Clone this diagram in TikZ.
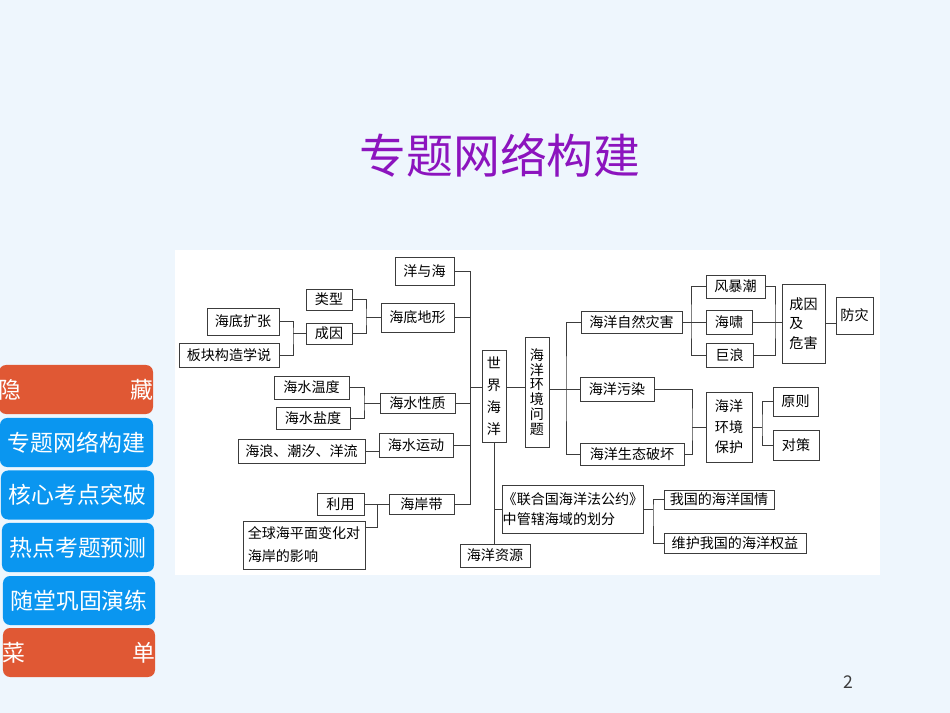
\documentclass[tikz,border=0pt]{standalone}
\usepackage{fontspec}
\setmainfont{Noto Sans CJK SC}
\definecolor{bgblue}{RGB}{238,246,253}
\definecolor{titlepurple}{RGB}{140,20,190}
\definecolor{btnred}{RGB}{224,88,52}
\definecolor{btnblue}{RGB}{10,150,240}
\definecolor{linegray}{RGB}{60,60,60}
\tikzset{
  sz/.style 2 args={minimum width={#1*0.03cm}, minimum height={#2*0.03cm}},
  menubtn/.style={rounded corners=6pt, text=white, inner sep=0pt, align=center,
                  font=\fontsize{19.5}{22}\selectfont, minimum height=1.47cm}
}
\begin{document}
\begin{tikzpicture}[x=0.03cm, y=-0.03cm]
\useasboundingbox (0,0) rectangle (950,713);
\fill[bgblue] (0,0) rectangle (950,713);
\fill[white] (175,250) rectangle (880,575);

\node[text=titlepurple, font=\fontsize{40}{44}\selectfont] (TITLE) at (500,155) {专题网络构建};
\node[text=linegray, font=\fontsize{15}{18}\selectfont] (PAGE) at (848,682) {2};

% menu
\begin{scope}[every node/.style={menubtn}]
    \node[fill=btnred, text width=4.62cm] (M1) at (76,389.5) {隐\hfill 藏};
    \node[fill=btnblue, minimum width=4.59cm] (M2) at (76.5,442.5) {专题网络构建};
    \node[fill=btnblue, minimum width=4.59cm] (M3) at (77.5,495) {核心考点突破};
    \node[fill=btnblue, minimum width=4.56cm] (M4) at (78,547.5) {热点考题预测};
    \node[fill=btnblue, minimum width=4.56cm] (M5) at (79,600.5) {随堂巩固演练};
    \node[fill=btnred, text width=4.56cm] (M6) at (79,652.5) {菜\hfill 单};
\end{scope}

\begin{scope}[every node/.style={draw=linegray, line width=0.8pt, inner sep=0pt,
                                 font=\fontsize{12}{15}\selectfont}]
    % left
    \node[sz={59}{28}] (YYH) at (424.5,271) {洋与海};
    \node[sz={46}{21}] (LX) at (329,299.5) {类型};
    \node[sz={73}{29}] (HDDX) at (417.5,317.5) {海底地形};
    \node[sz={46}{21}] (CY) at (329,333.5) {成因};
    \node[sz={72}{27}] (HDKZ) at (243,321.5) {海底扩张};
    \node[sz={100}{24}] (BKGZ) at (229,355) {板块构造学说};
    \node[sz={75}{23}] (WD) at (311.5,387.5) {海水温度};
    \node[sz={74}{22}] (YD) at (313,418) {海水盐度};
    \node[sz={75}{20}] (XZ) at (417.5,403) {海水性质};
    \node[sz={74}{24}] (YDG) at (416,445) {海水运动};
    \node[sz={127}{24}] (HL) at (301.5,451) {海浪、潮汐、洋流};
    \node[sz={65}{20}] (HAD) at (421.5,504) {海岸带};
    \node[sz={47}{22}] (LY) at (340.5,504) {利用};
    \node[sz={122}{48}, align=left, font=\fontsize{12}{19.5}\selectfont] (QQ) at (304,545)
        {全球海平面变化对\\海岸的影响};
    % middle
    \node[sz={24}{92}, align=center, font=\fontsize{12}{18.7}\selectfont] (SJHY) at (494,396)
        {世\\界\\海\\洋};
    \node[sz={70}{23}] (HYZY) at (495,555.5) {海洋资源};
    \node[sz={140}{48}, align=left, font=\fontsize{12}{17}\selectfont] (GY) at (573,509)
        {《联合国海洋法公约》\\中管辖海域的划分};
    \node[sz={110}{19}] (GQ) at (719,499.5) {我国的海洋国情};
    \node[sz={142}{20}] (QY) at (735,543.5) {维护我国的海洋权益};
    \node[sz={24}{110}, align=center, font=\fontsize{12}{12.7}\selectfont] (HJ) at (537,392)
        {海\\洋\\环\\境\\问\\题};
    % right
    \node[sz={101}{22}] (ZH) at (631.5,322) {海洋自然灾害};
    \node[sz={74}{24}] (WR) at (617,389) {海洋污染};
    \node[sz={104}{22}] (ST) at (632,454) {海洋生态破坏};
    \node[sz={59}{23}] (FBC) at (735.5,286.5) {风暴潮};
    \node[sz={46}{24}] (HX) at (729,322) {海啸};
    \node[sz={47}{24}] (JL) at (729.5,355) {巨浪};
    \node[sz={43}{79}, align=left, font=\fontsize{12}{16.5}\selectfont] (CYWH) at (803.5,323.5)
        {成因\\及\\危害};
    \node[sz={37}{37}] (FZ) at (854.5,315.5) {防灾};
    \node[sz={46}{70}, align=center, font=\fontsize{12}{17.5}\selectfont] (BH) at (729,427)
        {海洋\\环境\\保护};
    \node[sz={45}{29}] (YZ) at (795.5,401.5) {原则};
    \node[sz={46}{30}] (DC) at (796,445) {对策};
\end{scope}

\begin{scope}[color=linegray, line width=0.8pt]
    % left
    \coordinate (J1) at (293,333.5);
    \coordinate (J2) at (366,317.5);
    \draw (HDKZ.east) -| (J1) |- (BKGZ.east);
    \draw (J1) -- (CY.west);
    \draw (LX.east) -| (J2) |- (CY.east);
    \draw (J2) -- (HDDX.west);
    \coordinate (J3) at (364,403);
    \draw (WD.east) -| (J3) |- (YD.east);
    \draw (J3) -- (XZ.west);
    \draw (HL.east) -- (HL.east -| YDG.west);
    \coordinate (J4) at (377,504);
    \coordinate (J4b) at (377,527);
    \draw (LY.east) -- (HAD.west);
    \draw (J4) -- (J4b) -- (J4b -| QQ.east);
    % trunk
    \coordinate (T) at (470,504);
    \coordinate (ML) at (470,387);
    \draw (YYH.east) -| (T) -- (HAD.east);
    \draw (HDDX.east) -- (HDDX.east -| T);
    \draw (XZ.east) -- (XZ.east -| T);
    \draw (YDG.east) -- (YDG.east -| T);
    \draw (ML) -- (ML -| SJHY.west);
    \draw (SJHY.east |- ML) -- (HJ.west |- ML);
    % middle
    \draw (SJHY.south) -- (SJHY.south |- HYZY.north);
    \draw (SJHY.south |- GY.west) -- (GY.west);
    \coordinate (J10) at (653,509);
    \draw (GQ.west) -| (J10) |- (QY.west);
    \draw (GY.east) -- (J10);
    % right
    \coordinate (MR) at (566,389);
    \draw (HJ.east |- MR) -- (WR.west);
    \draw (ZH.west) -| (MR) |- (ST.west);
    \coordinate (J6) at (691,322);
    \coordinate (J7) at (775,322);
    \draw (FBC.west) -| (J6) |- (JL.west);
    \draw (ZH.east) -- (HX.west);
    \draw (FBC.east) -| (J7) |- (JL.east);
    \draw (HX.east) -- (HX.east -| CYWH.west);
    \draw (CYWH.east) -- (CYWH.east -| FZ.west);
    \coordinate (J8) at (692,427);
    \coordinate (J9) at (762,427);
    \draw (WR.east) -| (J8) |- (ST.east);
    \draw (J8) -- (BH.west);
    \draw (BH.east) -- (J9);
    \draw (YZ.west) -| (J9) |- (DC.west);
\end{scope}
\end{tikzpicture}
\end{document}
